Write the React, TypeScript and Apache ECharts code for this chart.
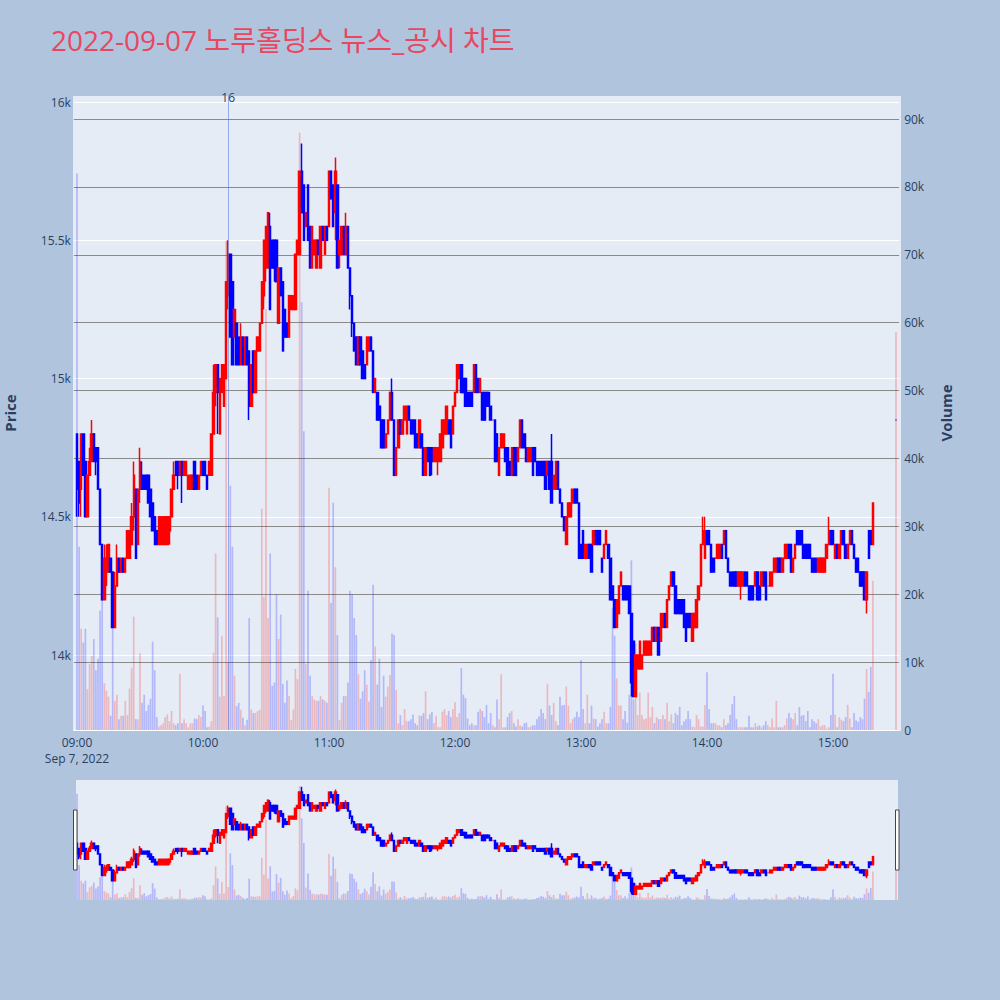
import React, { useEffect, useRef } from "react";
import * as echarts from "echarts";

// ---------- DATA ----------
const TITLE = "2022-09-07 노루홀딩스 뉴스_공시 차트";
const DATE_LABEL = "Sep 7, 2022";
const HOUR_LABELS = ["09:00", "10:00", "11:00", "12:00", "13:00", "14:00", "15:00"];
const NEWS_TIME = "10:12";
const NEWS_TEXT = "16";

// one candle per minute: [open, close, low, high]
const candles0900: number[][] = [
  [14800,14600,14500,14800],[14700,14550,14500,14700],[14600,14800,14500,14800],[14800,14650,14650,14800],
  [14700,14500,14500,14700],[14500,14650,14500,14650],[14650,14700,14650,14750],[14700,14800,14700,14850],
  [14800,14700,14700,14800],[14750,14700,14650,14750],[14750,14600,14600,14750],[14600,14400,14400,14600],
  [14400,14200,14200,14400],[14200,14350,14200,14400],[14300,14350,14250,14400],[14300,14400,14300,14400],
  [14350,14300,14300,14350],[14300,14100,14100,14300],[14100,14250,14100,14300],[14250,14350,14250,14400],
  [14350,14300,14300,14350],[14300,14350,14300,14350],[14350,14300,14300,14350],[14300,14350,14300,14350],
  [14350,14450,14350,14450],[14350,14450,14350,14450],[14400,14500,14400,14550],[14500,14650,14450,14700],
  [14600,14350,14350,14600],[14400,14600,14400,14600],[14600,14700,14550,14750],[14650,14600,14600,14700],
  [14650,14600,14600,14650],[14650,14600,14600,14650],[14650,14550,14550,14650],[14600,14500,14500,14600],
  [14550,14450,14450,14550],[14500,14400,14400,14500],[14450,14400,14400,14450],[14400,14500,14400,14500],
  [14400,14500,14400,14500],[14400,14500,14400,14500],[14400,14500,14400,14500],[14400,14500,14400,14500],
  [14450,14500,14400,14500],[14500,14600,14500,14600],[14600,14650,14600,14700],[14700,14650,14650,14700],
  [14700,14650,14600,14700],[14650,14700,14650,14700],[14700,14650,14550,14700],[14650,14700,14650,14700],
  [14650,14700,14650,14700],[14600,14650,14600,14650],[14600,14650,14600,14650],[14600,14650,14600,14650],
  [14700,14600,14600,14700],[14650,14600,14600,14650],[14600,14650,14600,14650],[14650,14700,14650,14700],
];
const candles1000: number[][] = [
  [14700,14650,14650,14700],[14700,14650,14650,14700],[14650,14600,14600,14650],[14650,14700,14650,14700],
  [14650,14800,14650,14800],[14800,14950,14800,15050],[14950,15050,14900,15050],[15050,14950,14800,15050],
  [14800,15000,14800,15000],[14950,15050,14950,15050],[14900,15050,14900,15050],[15000,15350,15000,15350],
  [15300,15450,15250,15500],[15450,15150,15150,15450],[15350,15050,15050,15350],[15150,15250,15150,15250],
  [15200,15050,15050,15200],[15150,15050,15050,15150],[15050,15150,15050,15200],[15150,15050,15050,15150],
  [15050,15150,15050,15150],[15150,15050,15050,15150],[15100,14900,14850,15100],[14900,15050,14900,15050],
  [15100,14950,14950,15100],[14950,15100,14950,15100],[15100,15150,15100,15150],[15100,15200,15100,15200],
  [15200,15350,15200,15350],[15300,15500,15250,15500],[15400,15550,15350,15550],[15400,15600,15400,15600],
  [15550,15250,15250,15600],[15500,15400,15400,15500],[15500,15400,15350,15500],[15500,15350,15350,15500],
  [15200,15400,15200,15400],[15400,15300,15300,15400],[15350,15100,15100,15350],[15250,15150,15150,15250],
  [15200,15150,15150,15200],[15150,15300,15150,15300],[15250,15300,15250,15300],[15250,15300,15250,15300],
  [15250,15450,15250,15450],[15450,15500,15450,15500],[15450,15750,15450,15750],[15750,15600,15600,15850],
  [15700,15500,15500,15700],[15550,15600,15550,15600],[15700,15500,15500,15700],[15550,15400,15400,15550],
  [15400,15550,15400,15550],[15450,15500,15450,15500],[15400,15500,15400,15500],[15500,15450,15450,15500],
  [15400,15550,15400,15550],[15550,15500,15500,15550],[15450,15550,15450,15550],[15550,15500,15500,15550],
];
const candles1100: number[][] = [
  [15550,15750,15550,15750],[15750,15650,15650,15750],[15700,15550,15550,15700],[15600,15750,15500,15800],
  [15700,15400,15400,15700],[15450,15500,15400,15500],[15450,15550,15450,15550],[15550,15450,15450,15550],
  [15450,15550,15450,15600],[15550,15400,15400,15550],[15400,15300,15250,15400],[15300,15200,15150,15300],
  [15200,15100,15100,15200],[15150,15050,15050,15150],[15050,15150,15050,15150],[15150,15050,15050,15150],
  [15100,15000,15000,15100],[15050,15000,15000,15050],[15050,15150,15050,15150],[15100,15150,15100,15150],
  [15150,15100,15100,15150],[15100,14950,14950,15100],[14950,15000,14950,15000],[14950,14850,14850,14950],
  [14900,14850,14850,14900],[14850,14750,14750,14850],[14850,14750,14750,14850],[14750,14800,14750,14800],
  [14800,14850,14800,14850],[14850,14950,14850,14950],[14950,14850,14850,15000],[14850,14650,14650,14850],
  [14650,14750,14650,14750],[14750,14850,14750,14850],[14850,14800,14800,14850],[14800,14850,14800,14850],
  [14850,14900,14850,14900],[14800,14900,14800,14900],[14900,14850,14850,14900],[14850,14800,14800,14850],
  [14850,14800,14800,14850],[14850,14750,14750,14850],[14800,14750,14750,14800],[14750,14850,14750,14850],
  [14800,14750,14750,14800],[14750,14650,14650,14750],[14650,14750,14650,14750],[14750,14700,14700,14750],
  [14750,14650,14650,14750],[14750,14700,14650,14750],[14700,14750,14700,14750],[14700,14750,14700,14750],
  [14700,14750,14650,14750],[14700,14800,14700,14800],[14750,14850,14750,14850],[14800,14850,14800,14850],
  [14800,14900,14800,14900],[14850,14800,14800,14850],[14850,14750,14750,14850],[14800,14900,14800,14900],
];
const candles1200: number[][] = [
  [14900,14950,14900,14950],[14950,15050,14950,15050],[15000,15050,15000,15050],[15050,14950,14950,15050],
  [15000,14950,14950,15000],[15000,14900,14900,15000],[14950,14900,14900,14950],[14950,14900,14900,14950],
  [14950,14900,14900,14950],[14950,15050,14950,15050],[15050,14950,14950,15050],[15000,14950,14950,15000],
  [14950,15000,14950,15000],[14950,14850,14850,14950],[14950,14850,14850,14950],[14950,14900,14900,14950],
  [14950,14900,14900,14950],[14900,14850,14850,14900],[14850,14850,14850,14850],[14850,14700,14700,14850],
  [14800,14700,14700,14800],[14650,14750,14650,14750],[14750,14800,14750,14800],[14750,14800,14750,14800],
  [14750,14700,14700,14750],[14750,14650,14650,14750],[14700,14650,14650,14700],[14650,14750,14650,14750],
  [14750,14650,14650,14750],[14750,14650,14650,14750],[14700,14750,14700,14750],[14750,14850,14750,14850],
  [14850,14750,14750,14850],[14800,14750,14750,14800],[14750,14700,14700,14750],[14700,14750,14700,14750],
  [14700,14750,14700,14750],[14750,14650,14650,14750],[14750,14700,14700,14750],[14700,14650,14650,14700],
  [14700,14650,14650,14700],[14700,14650,14650,14700],[14700,14650,14650,14700],[14700,14600,14600,14700],
  [14650,14700,14650,14700],[14700,14600,14600,14700],[14700,14550,14550,14800],[14600,14650,14600,14650],
  [14600,14700,14600,14700],[14700,14600,14600,14700],[14600,14550,14550,14600],[14550,14500,14500,14550],
  [14500,14450,14450,14500],[14400,14500,14400,14500],[14500,14550,14500,14550],[14500,14550,14500,14550],
  [14550,14600,14550,14600],[14600,14550,14550,14600],[14600,14550,14550,14600],[14550,14350,14350,14550],
];
const candles1300: number[][] = [
  [14400,14350,14350,14400],[14450,14350,14350,14450],[14350,14400,14350,14400],[14350,14400,14350,14400],
  [14400,14350,14350,14400],[14400,14300,14300,14400],[14400,14450,14400,14450],[14450,14400,14400,14450],
  [14450,14400,14400,14450],[14450,14400,14400,14450],[14350,14300,14300,14350],[14350,14400,14350,14400],
  [14400,14450,14400,14450],[14400,14350,14350,14400],[14350,14200,14200,14350],[14250,14200,14200,14250],
  [14200,14100,14100,14200],[14100,14200,14100,14200],[14150,14250,14150,14250],[14250,14300,14250,14300],
  [14250,14200,14200,14250],[14250,14200,14200,14250],[14250,14200,14200,14250],[14250,14150,14150,14250],
  [14150,13900,13850,14150],[14050,13850,13850,14050],[13850,14000,13850,14000],[13950,14000,13950,14000],
  [13950,14050,13950,14050],[13950,14000,13950,14000],[14000,14050,14000,14050],[14000,14050,14000,14050],
  [14000,14050,14000,14050],[14000,14050,14000,14050],[14050,14100,14050,14100],[14100,14050,14050,14100],
  [14050,14100,14050,14100],[14100,14000,14000,14100],[14050,14150,14050,14150],[14100,14150,14100,14150],
  [14150,14100,14100,14150],[14100,14200,14100,14200],[14200,14250,14200,14250],[14250,14300,14250,14300],
  [14300,14250,14250,14300],[14250,14150,14150,14250],[14200,14150,14150,14200],[14200,14150,14150,14200],
  [14200,14150,14150,14200],[14200,14100,14100,14200],[14150,14050,14050,14150],[14150,14100,14100,14150],
  [14150,14100,14100,14150],[14050,14150,14050,14150],[14100,14150,14100,14150],[14100,14200,14100,14200],
  [14200,14250,14200,14250],[14250,14400,14250,14400],[14400,14450,14400,14500],[14350,14450,14350,14500],
];
const candles1400: number[][] = [
  [14450,14400,14400,14450],[14450,14400,14400,14450],[14400,14300,14300,14400],[14350,14300,14300,14350],
  [14350,14350,14350,14350],[14350,14400,14350,14400],[14350,14400,14350,14400],[14400,14350,14350,14400],
  [14400,14450,14400,14450],[14450,14350,14350,14450],[14350,14300,14300,14350],[14300,14250,14250,14300],
  [14300,14250,14250,14300],[14300,14250,14250,14300],[14300,14250,14250,14300],[14250,14300,14250,14300],
  [14250,14300,14200,14300],[14250,14300,14250,14300],[14300,14250,14250,14300],[14300,14250,14250,14300],
  [14250,14200,14200,14250],[14250,14200,14200,14250],[14250,14200,14200,14250],[14250,14300,14250,14300],
  [14300,14200,14200,14300],[14250,14200,14200,14250],[14250,14300,14250,14300],[14300,14250,14250,14300],
  [14300,14200,14200,14300],[14250,14250,14250,14250],[14250,14300,14250,14300],[14250,14300,14250,14300],
  [14300,14350,14300,14350],[14300,14350,14300,14350],[14350,14300,14300,14350],[14350,14300,14300,14350],
  [14300,14350,14300,14350],[14350,14400,14350,14400],[14350,14400,14350,14400],[14400,14350,14350,14400],
  [14400,14300,14300,14400],[14300,14350,14300,14350],[14350,14400,14350,14400],[14450,14400,14400,14450],
  [14450,14400,14400,14450],[14450,14400,14400,14450],[14400,14350,14350,14400],[14400,14350,14350,14400],
  [14400,14350,14350,14400],[14400,14350,14350,14400],[14350,14300,14300,14350],[14350,14300,14300,14350],
  [14350,14300,14300,14350],[14300,14350,14300,14350],[14300,14350,14300,14350],[14300,14350,14300,14350],
  [14300,14350,14300,14350],[14350,14400,14350,14400],[14400,14450,14400,14500],[14450,14400,14400,14450],
];
const candles1500: number[][] = [
  [14450,14400,14400,14450],[14350,14400,14350,14400],[14400,14350,14350,14400],[14350,14400,14350,14400],
  [14400,14450,14400,14450],[14450,14400,14400,14450],[14400,14350,14350,14400],[14350,14400,14350,14400],
  [14400,14450,14400,14450],[14450,14400,14400,14450],[14400,14350,14350,14400],[14350,14300,14300,14350],
  [14350,14300,14300,14350],[14300,14250,14250,14300],[14300,14250,14250,14300],[14300,14200,14200,14300],
  [14200,14300,14150,14300],[14450,14350,14350,14450],[14450,14400,14400,14450],[14400,14550,14400,14550],
];
const closingTime = "15:30";
const closingCandle = [14850, 14850, 14850, 14850];

const volume0900 = [
  82000,27000,14900,12900,14900,6000,9700,10900,13400,8800,10500,17600,19400,6900,5800,4900,2100,15000,4300,5200,
  1600,2100,2100,4300,2200,6100,9100,16700,1600,1600,11300,4000,5200,2800,3700,4600,13000,8800,1900,500,
  700,1000,1900,2300,1300,2800,1000,700,1000,8300,1000,1600,1000,400,1000,1000,1700,1600,2200,1900,
];
const volume1000 = [
  3600,2800,400,500,1300,11400,26000,16600,4900,13900,5000,72000,10000,36000,27000,8000,3500,4000,3000,1800,
  700,1500,16500,3000,2500,2500,2800,3000,32600,19600,62000,16500,26000,6500,7000,20000,13400,17000,6800,4000,
  7300,5000,1500,3000,9000,7500,88000,63000,44000,9700,20500,8000,5000,4500,4300,4300,5000,4500,4300,4000,
];
const volume1100 = [
  35700,18700,33500,24000,14000,1500,4000,5000,5000,7000,20500,20000,16500,14000,8200,4600,5700,8800,6700,4200,
  10300,21400,12300,6700,10500,3400,8000,4900,6400,8100,14200,14000,5900,1000,2200,700,3100,1300,1300,1600,
  2300,1000,700,2100,2100,2500,5700,1600,2300,2700,1000,2100,400,400,2700,3100,2200,2800,1900,3100,
];
const volume1200 = [
  4100,1900,2500,9100,5200,4700,1700,700,1000,700,700,2700,3100,2800,1900,3700,1000,2500,700,400,
  4500,1600,8200,400,400,1900,2500,2800,1000,500,1600,700,500,1000,1100,400,500,700,700,1600,
  2000,3100,2500,1600,6800,3600,2200,4000,1300,700,4900,3600,3700,6400,3600,1000,1600,1900,2700,1900,
];
const volume1300 = [
  10300,3100,1000,5200,1000,3600,1700,1600,500,1000,1600,2700,1000,1000,3400,18000,13900,7600,3600,3600,
  1600,2800,1100,5200,25000,4500,12700,2200,5500,2200,1600,1700,5500,1900,3400,1000,1900,1600,1600,2200,
  1600,4000,1300,2300,1000,2500,2200,3400,700,1300,1600,2800,1600,500,400,2200,1600,500,500,3700,
];
const volume1400 = [
  8500,3100,1000,1000,1000,700,700,400,1600,700,1000,2200,3800,5000,1600,400,400,400,400,400,
  2100,400,400,1000,500,700,400,700,1300,700,400,1700,400,4300,400,400,400,700,1700,2500,
  1800,1600,2500,700,3400,2100,2200,1300,2800,400,1600,1300,1000,1600,500,700,700,200,400,2200,
];
const volume1500 = [
  8300,2300,400,1900,1500,1300,1900,3700,1700,400,2500,1400,1200,1900,1600,4600,9000,5600,9300,22000,
];
const closingVolume = 58600;

// ---------- STYLE ----------
const FONT = '"Open Sans", verdana, arial, "Noto Sans CJK KR", sans-serif';
const PAPER = "#B0C4DE";
const PLOT_BG = "#E5ECF6";
const AXIS_TEXT = "#2a3f5f";
const UP = "#FF0000";
const DOWN = "#0000FF";
const UP_VOL = "rgba(255,0,0,0.22)";
const DOWN_VOL = "rgba(0,0,255,0.22)";
const TITLE_COLOR = "#E8475F";

function hhmm(m: number): string {
  const h = 9 + Math.floor(m / 60);
  const mm = m % 60;
  return (h < 10 ? "0" : "") + h + ":" + (mm < 10 ? "0" : "") + mm;
}

export default function App() {
  const ref = useRef<HTMLDivElement>(null);
  useEffect(() => {
    if (!ref.current) return;
    const chart = echarts.init(ref.current, undefined, { renderer: "svg" });

    const allCandles = [
      ...candles0900, ...candles1000, ...candles1100, ...candles1200,
      ...candles1300, ...candles1400, ...candles1500,
    ];
    const allVolumes = [
      ...volume0900, ...volume1000, ...volume1100, ...volume1200,
      ...volume1300, ...volume1400, ...volume1500,
    ];

    const cats: string[] = [];
    const candleData: any[] = [];
    const volData: any[] = [];
    let prevClose = NaN;
    for (let m = -1; m <= 391; m++) {
      const name = m < 0 ? "pre" : m > 390 ? "post" : hhmm(m);
      cats.push(name);
      let c: number[] | null = null;
      let v: number | null = null;
      if (m >= 0 && m < allCandles.length) {
        c = allCandles[m];
        v = allVolumes[m];
      } else if (name === closingTime) {
        c = closingCandle;
        v = closingVolume;
      }
      if (c) {
        const up = c[1] > c[0] || (c[1] === c[0] && !(c[1] < prevClose));
        prevClose = c[1];
        candleData.push(c);
        volData.push({ value: v, itemStyle: { color: up ? UP_VOL : DOWN_VOL } });
      } else {
        candleData.push(["-", "-", "-", "-"]);
        volData.push("-");
      }
    }

    const candleStyle = {
      color: UP, color0: DOWN, borderColor: UP, borderColor0: DOWN, borderWidth: 1.5,
    };

    chart.setOption({
      animation: false,
      backgroundColor: PAPER,
      textStyle: { fontFamily: FONT },
      title: {
        text: TITLE, left: 46, top: 21,
        textStyle: { color: TITLE_COLOR, fontSize: 28, fontWeight: "normal", fontFamily: FONT },
      },
      grid: [
        { left: 73.85, top: 96, width: 825.3, height: 634 },
        { left: 73.85, top: 780, width: 825.3, height: 120 },
      ],
      xAxis: [
        {
          type: "category", gridIndex: 0, data: cats, boundaryGap: true,
          axisLine: { show: false }, axisTick: { show: false }, splitLine: { show: false },
          axisLabel: {
            interval: (_i: number, v: string) => HOUR_LABELS.indexOf(v) >= 0,
            formatter: (v: string) => (v === HOUR_LABELS[0] ? v + "\n" + DATE_LABEL : v),
            color: AXIS_TEXT, fontSize: 12, margin: 4, lineHeight: 16, fontFamily: FONT,
          },
        },
        { type: "category", gridIndex: 1, data: cats, boundaryGap: true, show: false },
      ],
      yAxis: [
        {
          type: "value", gridIndex: 0, min: 13729, max: 16022, splitNumber: 4, position: "left",
          axisLine: { show: false }, axisTick: { show: false },
          splitLine: { show: true, showMinLine: true, showMaxLine: false, lineStyle: { color: "#FFFFFF", width: 1 } },
          axisLabel: {
            formatter: (v: number) => (v % 500 === 0 ? v / 1000 + "k" : ""),
            color: AXIS_TEXT, fontSize: 12, margin: 3, fontFamily: FONT,
          },
        },
        {
          type: "value", gridIndex: 0, min: 0, max: 93400, interval: 10000, position: "right",
          axisLine: { show: false }, axisTick: { show: false },
          splitLine: { show: true, showMinLine: false, showMaxLine: false, lineStyle: { color: "#8a8a8a", width: 1 } },
          axisLabel: {
            formatter: (v: number) => (v === 0 ? "0" : v % 10000 === 0 ? v / 1000 + "k" : ""),
            color: AXIS_TEXT, fontSize: 12, margin: 5, fontFamily: FONT,
          },
        },
        { type: "value", gridIndex: 1, min: 13744, max: 15975, show: false },
        { type: "value", gridIndex: 1, min: 0, max: 92600, show: false },
      ],
      series: [
        { type: "bar", name: "Volume", xAxisIndex: 0, yAxisIndex: 1, data: volData, barWidth: 1.7 },
        {
          type: "candlestick", name: "Price", xAxisIndex: 0, yAxisIndex: 0, data: candleData,
          barWidth: 1.9, itemStyle: candleStyle,
          markLine: {
            silent: true, symbol: ["none", "none"], label: { show: false },
            lineStyle: { color: "rgba(65,105,225,0.5)", width: 1, type: "solid" },
            emphasis: { disabled: true },
            data: [{ xAxis: NEWS_TIME }],
          },
        },
        { type: "bar", xAxisIndex: 1, yAxisIndex: 3, data: volData, barWidth: 1.7 },
        {
          type: "candlestick", xAxisIndex: 1, yAxisIndex: 2, data: candleData,
          barWidth: 1.9, itemStyle: candleStyle,
        },
      ],
    });

    const nx = chart.convertToPixel({ xAxisIndex: 0 }, NEWS_TIME) as number;

    chart.setOption({
      graphic: [
        { type: "rect", z: -1, shape: { x: 73, y: 96, width: 828, height: 635 }, style: { fill: PLOT_BG } },
        { type: "rect", z: -1, shape: { x: 76, y: 780, width: 822, height: 120 }, style: { fill: PLOT_BG } },
        {
          type: "rect", z: 10, shape: { x: 73.5, y: 810, width: 3.5, height: 60 },
          style: { fill: "#FFFFFF", stroke: "#444444", lineWidth: 1 },
        },
        {
          type: "rect", z: 10, shape: { x: 895.5, y: 810, width: 3.5, height: 60 },
          style: { fill: "#FFFFFF", stroke: "#444444", lineWidth: 1 },
        },
        {
          type: "text", x: nx, y: 97, z: 10,
          style: {
            text: NEWS_TEXT, fill: AXIS_TEXT, fontSize: 12, fontFamily: FONT,
            align: "center", verticalAlign: "middle", textAlign: "center", textVerticalAlign: "middle",
          },
        },
        {
          type: "text", x: 10, y: 413, rotation: Math.PI / 2, z: 10,
          style: {
            text: "Price", fill: AXIS_TEXT, fontSize: 15, fontWeight: "bold", fontFamily: FONT,
            align: "center", verticalAlign: "middle", textAlign: "center", textVerticalAlign: "middle",
          },
        },
        {
          type: "text", x: 946, y: 413, rotation: Math.PI / 2, z: 10,
          style: {
            text: "Volume", fill: AXIS_TEXT, fontSize: 15, fontWeight: "bold", fontFamily: FONT,
            align: "center", verticalAlign: "middle", textAlign: "center", textVerticalAlign: "middle",
          },
        },
      ],
    });

    return () => chart.dispose();
  }, []);

  return (
    <div
      ref={ref}
      style={{ position: "absolute", left: 0, top: 0, width: 1000, height: 1000 }}
    />
  );
}
